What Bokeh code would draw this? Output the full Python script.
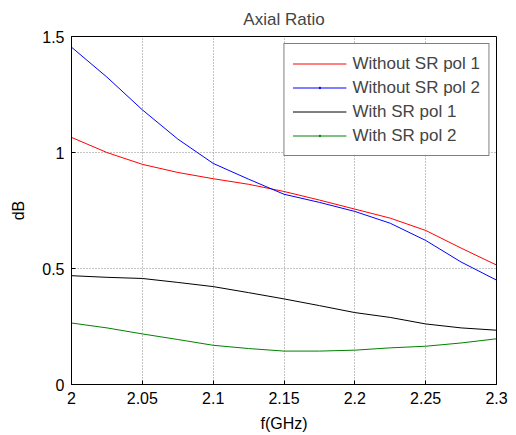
from bokeh.plotting import figure
from bokeh.models import Range1d, FixedTicker, Legend, LegendItem, ColumnDataSource
from bokeh.embed import file_html
from bokeh.resources import INLINE

freq = [2.0, 2.025, 2.05, 2.075, 2.1, 2.125, 2.15, 2.175, 2.2, 2.225, 2.25, 2.275, 2.3]
without_pol1 = [1.065, 1.0, 0.949, 0.914, 0.887, 0.863, 0.832, 0.795, 0.756, 0.717, 0.664, 0.588, 0.515]
without_pol2 = [1.454, 1.325, 1.184, 1.058, 0.953, 0.885, 0.82, 0.785, 0.746, 0.695, 0.621, 0.528, 0.45]
with_pol1 = [0.469, 0.462, 0.457, 0.44, 0.422, 0.396, 0.369, 0.34, 0.31, 0.289, 0.261, 0.244, 0.234]
with_pol2 = [0.265, 0.244, 0.218, 0.194, 0.169, 0.155, 0.144, 0.144, 0.148, 0.158, 0.165, 0.179, 0.197]

x_ticks = [2.0, 2.05, 2.1, 2.15, 2.2, 2.25, 2.3]
x_tick_labels = ["2", "2.05", "2.1", "2.15", "2.2", "2.25", "2.3"]
y_ticks = [0, 0.5, 1.0, 1.5]
y_tick_labels = ["0", "0.5", "1", "1.5"]

FONT = "Liberation Sans"

p = figure(width=508, height=434, output_backend="svg", toolbar_location=None,
           x_range=Range1d(2.0, 2.3), y_range=Range1d(0, 1.5),
           min_border_left=71, min_border_right=12, min_border_top=36, min_border_bottom=47,
           title="Axial Ratio")
p.title.align = "center"
p.title.text_font = FONT
p.title.text_font_size = "17px"
p.title.text_font_style = "normal"
p.title.offset = 0
p.title.standoff = 15

p.outline_line_color = "black"
p.outline_line_width = 1

for ax, ticks, labels in ((p.xaxis[0], x_ticks, x_tick_labels), (p.yaxis[0], y_ticks, y_tick_labels)):
    ax.ticker = FixedTicker(ticks=ticks)
    ax.major_label_overrides = {t: l for t, l in zip(ticks, labels)}
    ax.major_tick_in = 4
    ax.major_tick_out = 0
    ax.minor_tick_in = 0
    ax.minor_tick_out = 0
    ax.axis_line_color = "black"
    ax.major_tick_line_color = "black"
    ax.major_label_text_font = FONT
    ax.major_label_text_font_size = "16px"
    ax.major_label_text_color = "black"
    ax.axis_label_text_font = FONT
    ax.axis_label_text_font_size = "16px"
    ax.axis_label_text_font_style = "normal"
    ax.axis_label_text_color = "black"

p.xaxis.axis_label = "f(GHz)"
p.yaxis.axis_label = "dB"
p.xaxis.major_label_standoff = 7
p.yaxis.major_label_standoff = 7
p.xaxis.axis_label_standoff = 8
p.yaxis.axis_label_standoff = 12

p.grid.grid_line_color = "#8a8a8a"
p.grid.grid_line_dash = "1 2"
p.grid.grid_line_width = 1
p.xgrid.ticker = FixedTicker(ticks=x_ticks)
p.ygrid.ticker = FixedTicker(ticks=y_ticks)

s1 = ColumnDataSource(dict(f=freq, v=without_pol1))
s2 = ColumnDataSource(dict(f=freq, v=without_pol2))
s3 = ColumnDataSource(dict(f=freq, v=with_pol1))
s4 = ColumnDataSource(dict(f=freq, v=with_pol2))
r1 = p.line("f", "v", source=s1, line_color="#ff0000", line_width=1)
r2 = p.line("f", "v", source=s2, line_color="#0000ff", line_width=1)
r3 = p.line("f", "v", source=s3, line_color="#000000", line_width=1)
r4 = p.line("f", "v", source=s4, line_color="#008000", line_width=1)

# marker glyphs only used for the legend symbols (hidden on the plot)
m1 = p.scatter("f", "v", source=s1, marker="dot", size=0, line_color="#ff0000", line_alpha=0, visible=False)
m2 = p.scatter("f", "v", source=s2, marker="dot", size=18, line_color="#0000ff", line_width=3, visible=False)
m4 = p.scatter("f", "v", source=s4, marker="dot", size=18, line_color="#008000", line_width=3, visible=False)

legend = Legend(items=[
    LegendItem(label="Without SR pol 1", renderers=[m1, r1]),
    LegendItem(label="Without SR pol 2", renderers=[r2, m2]),
    LegendItem(label="With SR pol 1", renderers=[r3]),
    LegendItem(label="With SR pol 2", renderers=[r4, m4]),
], location="top_right")
legend.margin = 7
legend.padding = 8
legend.spacing = 1
legend.glyph_width = 54
legend.label_standoff = 6
legend.label_height = 23
legend.glyph_height = 23
legend.label_text_font = FONT
legend.label_text_font_size = "17px"
legend.label_text_baseline = "middle"
legend.border_line_color = "black"
legend.border_line_width = 1
legend.background_fill_color = "white"
legend.background_fill_alpha = 1
legend.inactive_fill_alpha = 0
p.add_layout(legend, "center")

open("out.html", "w").write(file_html(p, INLINE))
